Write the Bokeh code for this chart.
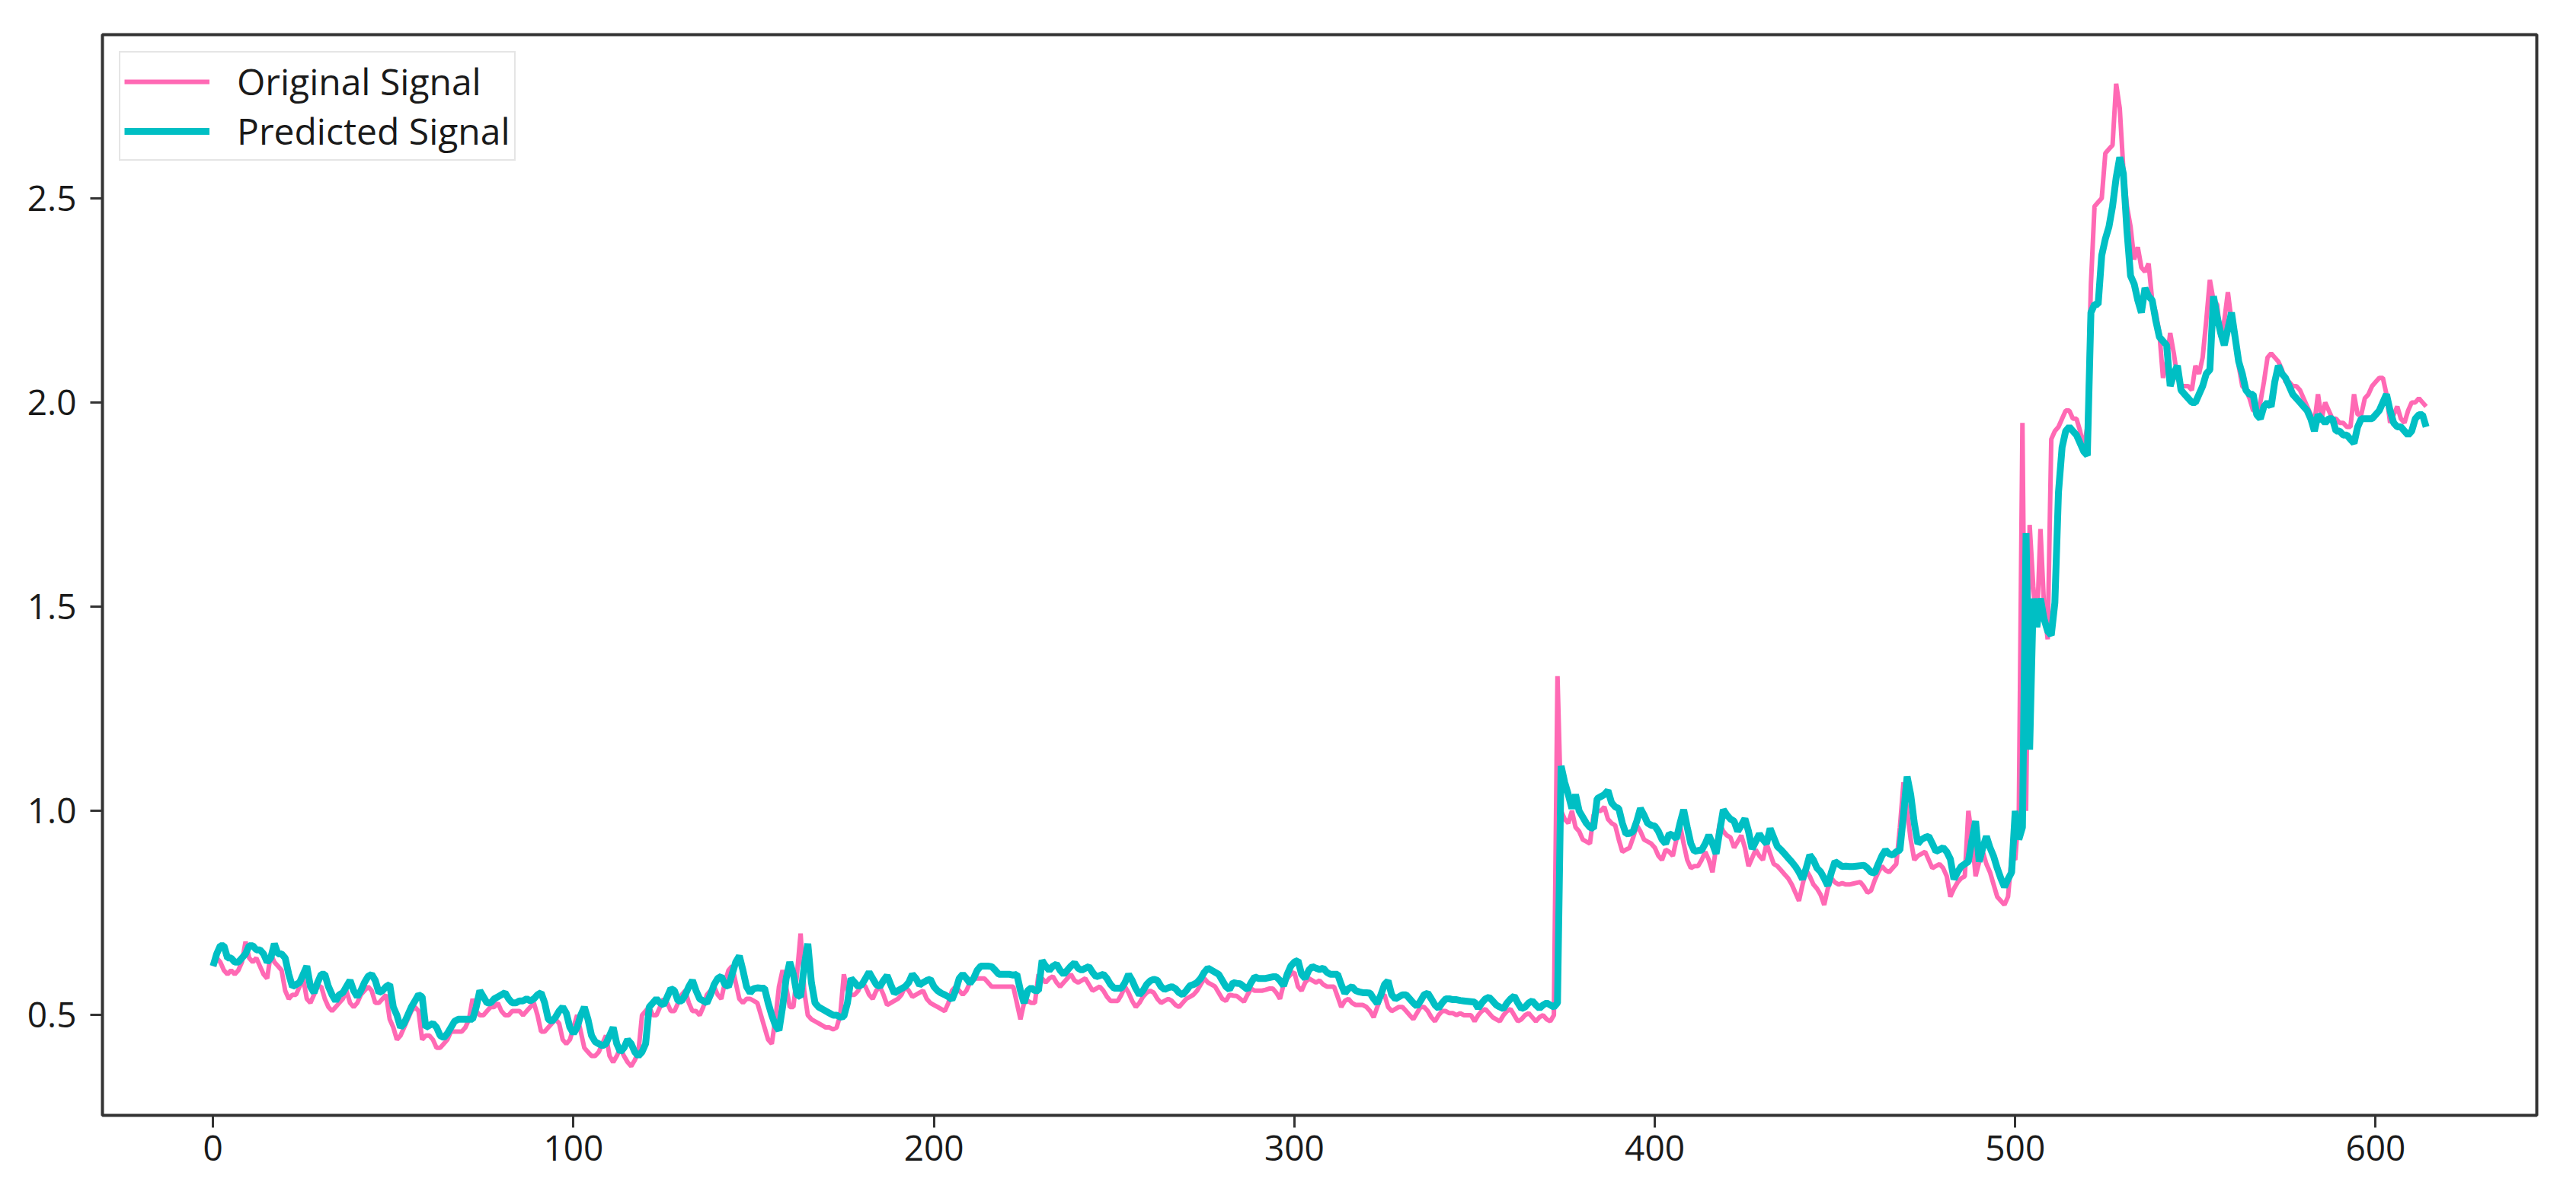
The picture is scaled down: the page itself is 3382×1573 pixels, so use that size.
from bokeh.plotting import figure
from bokeh.models import Range1d, FixedTicker, Legend, LegendItem
from bokeh.embed import file_html
from bokeh.resources import INLINE

# Predicted signal (teal), index 0..614
predicted = [
    .62,.65,.67,.67,.64,.64,.63,.63,.64,.65,
    .67,.67,.66,.66,.65,.63,.64,.675,.65,.65,
    .64,.60,.57,.575,.58,.60,.62,.57,.555,.58,
    .60,.60,.57,.55,.535,.55,.555,.57,.585,.56,
    .545,.56,.58,.595,.60,.585,.555,.56,.57,.575,
    .52,.50,.47,.48,.50,.52,.535,.55,.545,.47,
    .475,.48,.47,.45,.445,.455,.47,.485,.49,.49,
    .49,.49,.49,.52,.56,.545,.53,.53,.54,.545,
    .55,.555,.54,.53,.53,.535,.535,.54,.535,.54,
    .55,.555,.53,.49,.485,.495,.51,.52,.505,.47,
    .455,.47,.50,.52,.49,.45,.435,.43,.425,.43,
    .45,.47,.43,.41,.42,.44,.43,.41,.40,.41,
    .43,.52,.53,.54,.53,.525,.545,.565,.56,.535,
    .535,.55,.57,.585,.56,.54,.535,.53,.55,.575,
    .59,.595,.575,.57,.60,.63,.645,.61,.57,.555,
    .565,.567,.566,.566,.53,.50,.475,.463,.52,.59,
    .63,.60,.55,.545,.62,.675,.58,.53,.52,.515,
    .51,.505,.50,.50,.495,.497,.53,.59,.58,.57,
    .575,.59,.605,.59,.575,.57,.585,.597,.575,.554,
    .56,.565,.57,.58,.60,.59,.574,.58,.585,.588,
    .57,.56,.554,.55,.545,.538,.56,.59,.60,.59,
    .578,.59,.61,.62,.62,.62,.619,.61,.60,.60,
    .60,.60,.598,.60,.56,.53,.56,.567,.56,.56,
    .634,.62,.61,.62,.625,.61,.60,.61,.62,.628,
    .615,.61,.615,.619,.605,.594,.597,.60,.59,.575,
    .566,.566,.566,.58,.60,.585,.565,.55,.56,.575,
    .584,.588,.585,.57,.563,.567,.57,.565,.555,.55,
    .56,.572,.575,.58,.59,.605,.615,.61,.605,.60,
    .585,.57,.563,.58,.578,.577,.57,.563,.58,.594,
    .59,.59,.59,.592,.594,.594,.585,.572,.60,.62,
    .63,.634,.60,.59,.61,.619,.615,.612,.615,.605,
    .60,.60,.60,.575,.554,.565,.57,.56,.557,.555,
    .555,.554,.54,.529,.55,.575,.584,.55,.54,.545,
    .55,.55,.54,.53,.522,.535,.55,.554,.54,.525,
    .517,.53,.54,.54,.538,.538,.536,.535,.534,.533,
    .532,.517,.53,.54,.544,.535,.525,.52,.516,.53,
    .54,.547,.53,.516,.52,.53,.535,.525,.517,.525,
    .53,.525,.52,.53,1.11,1.07,1.04,1.006,1.04,1.00,
    .985,.97,.96,.957,1.03,1.035,1.04,1.05,1.02,1.01,
    1.006,.97,.944,.945,.95,.975,1.006,.99,.97,.965,
    .963,.95,.93,.92,.944,.94,.932,.97,1.003,.96,
    .92,.901,.903,.904,.92,.941,.92,.895,.95,1.003,
    .99,.98,.975,.95,.965,.981,.95,.907,.925,.944,
    .93,.92,.957,.935,.913,.905,.895,.885,.875,.864,
    .85,.833,.86,.892,.88,.86,.851,.835,.817,.85,
    .876,.87,.864,.865,.864,.864,.865,.866,.867,.86,
    .85,.848,.87,.89,.904,.895,.892,.90,.904,.99,
    1.084,1.04,.97,.92,.93,.935,.938,.92,.901,.905,
    .91,.90,.882,.833,.85,.864,.87,.876,.93,.975,
    .876,.91,.938,.91,.889,.86,.835,.814,.833,.85,
    1.00,.93,.96,1.68,1.15,1.52,1.45,1.52,1.47,1.44,
    1.43,1.51,1.78,1.89,1.93,1.94,1.93,1.92,1.90,1.88,
    1.87,2.22,2.24,2.24,2.36,2.40,2.43,2.48,2.55,2.60,
    2.56,2.42,2.31,2.29,2.25,2.22,2.28,2.26,2.25,2.20,
    2.16,2.15,2.14,2.04,2.07,2.09,2.03,2.02,2.01,2.00,
    2.00,2.02,2.04,2.07,2.08,2.26,2.21,2.17,2.14,2.18,
    2.22,2.16,2.10,2.07,2.03,2.02,2.02,1.97,1.96,1.99,
    2.00,1.99,2.05,2.09,2.07,2.06,2.04,2.02,2.01,2.00,
    1.99,1.98,1.96,1.93,1.97,1.96,1.95,1.96,1.96,1.93,
    1.93,1.92,1.92,1.91,1.90,1.94,1.96,1.96,1.96,1.96,
    1.97,1.98,2.00,2.02,1.98,1.95,1.94,1.94,1.93,1.92,
    1.93,1.96,1.97,1.97,1.94,
]

# Original signal (pink), index 0..614
original = [
    .62,.64,.63,.61,.60,.61,.60,.61,.63,.68,
    .64,.63,.64,.62,.60,.59,.65,.63,.62,.61,
    .56,.54,.55,.55,.57,.59,.54,.53,.55,.57,
    .57,.54,.52,.51,.52,.53,.54,.56,.53,.52,
    .53,.55,.56,.57,.56,.53,.53,.54,.55,.49,
    .47,.44,.45,.47,.49,.51,.52,.51,.44,.45,
    .45,.44,.42,.42,.43,.44,.46,.46,.46,.46,
    .47,.49,.54,.51,.50,.50,.51,.52,.52,.53,
    .51,.50,.50,.51,.51,.51,.50,.51,.52,.53,
    .50,.46,.46,.47,.48,.49,.48,.44,.43,.44,
    .47,.50,.46,.42,.41,.40,.40,.41,.43,.45,
    .40,.385,.40,.42,.40,.385,.375,.39,.41,.50,
    .51,.52,.50,.50,.52,.54,.53,.51,.51,.53,
    .55,.56,.53,.51,.51,.50,.52,.55,.56,.57,
    .55,.54,.58,.61,.62,.58,.54,.53,.54,.54,
    .535,.53,.50,.47,.44,.43,.49,.57,.61,.57,
    .52,.52,.60,.70,.56,.50,.49,.485,.48,.475,
    .47,.47,.465,.47,.50,.60,.56,.55,.55,.56,
    .58,.57,.55,.54,.56,.57,.55,.525,.53,.535,
    .54,.55,.57,.56,.545,.55,.555,.56,.54,.53,
    .525,.52,.515,.51,.53,.56,.57,.56,.55,.56,
    .58,.59,.59,.59,.59,.58,.57,.57,.57,.57,
    .57,.57,.57,.53,.49,.53,.535,.53,.53,.60,
    .59,.58,.59,.595,.58,.57,.58,.59,.60,.585,
    .58,.585,.59,.575,.56,.565,.57,.56,.545,.535,
    .535,.535,.55,.57,.555,.535,.52,.53,.545,.555,
    .56,.555,.54,.53,.535,.54,.535,.525,.52,.53,
    .54,.545,.55,.56,.575,.59,.58,.575,.57,.555,
    .54,.535,.55,.548,.547,.54,.533,.55,.565,.56,
    .56,.56,.562,.565,.565,.555,.54,.575,.59,.60,
    .605,.57,.56,.58,.59,.585,.58,.585,.575,.57,
    .57,.57,.545,.52,.535,.54,.53,.525,.525,.525,
    .52,.51,.495,.52,.545,.55,.52,.51,.515,.52,
    .52,.51,.50,.49,.505,.52,.52,.51,.495,.485,
    .50,.51,.51,.505,.505,.50,.505,.50,.50,.50,
    .485,.50,.51,.515,.505,.495,.49,.485,.50,.51,
    .515,.50,.485,.49,.50,.505,.495,.485,.495,.50,
    .49,.485,.50,1.33,1.00,.98,.97,1.00,.96,.95,
    .93,.925,.92,.99,1.00,1.00,1.01,.98,.97,.965,
    .93,.90,.905,.91,.935,.965,.95,.93,.925,.92,
    .91,.89,.88,.905,.90,.89,.93,.965,.92,.88,
    .86,.865,.865,.88,.90,.88,.85,.91,.97,.95,
    .94,.935,.91,.925,.94,.91,.865,.885,.905,.89,
    .88,.92,.895,.87,.865,.855,.845,.835,.82,.80,
    .78,.82,.855,.84,.82,.81,.795,.77,.81,.835,
    .825,.82,.823,.82,.82,.822,.824,.826,.815,.80,
    .805,.83,.85,.865,.855,.85,.86,.87,.96,1.07,
    1.00,.93,.88,.89,.895,.90,.88,.86,.865,.87,
    .86,.84,.79,.81,.825,.835,.84,1.00,.935,.84,
    .875,.90,.87,.85,.82,.79,.78,.77,.79,.89,
    .88,1.00,1.95,1.00,1.70,1.55,1.45,1.69,1.50,1.42,
    1.91,1.93,1.94,1.96,1.98,1.98,1.96,1.96,1.93,1.89,
    1.94,2.29,2.48,2.49,2.50,2.61,2.62,2.63,2.78,2.72,
    2.57,2.48,2.43,2.35,2.38,2.33,2.32,2.34,2.25,2.22,
    2.17,2.06,2.10,2.17,2.12,2.06,2.04,2.04,2.04,2.03,
    2.09,2.07,2.11,2.20,2.30,2.25,2.24,2.16,2.20,2.27,
    2.20,2.16,2.09,2.04,2.03,2.01,1.98,1.98,2.00,2.05,
    2.11,2.12,2.11,2.10,2.08,2.05,2.05,2.04,2.04,2.03,
    2.01,1.99,1.97,1.95,2.02,1.96,2.00,1.98,1.96,1.96,
    1.95,1.95,1.94,1.94,2.02,1.97,1.97,2.01,2.02,2.04,
    2.05,2.06,2.06,2.02,1.95,1.97,1.99,1.96,1.95,1.98,
    2.00,2.00,2.01,2.00,1.99,
]

x_ticks = [0, 100, 200, 300, 400, 500, 600]
y_ticks = [0.5, 1.0, 1.5, 2.0, 2.5]
y_tick_labels = ["0.5", "1.0", "1.5", "2.0", "2.5"]
series_names = ["Original Signal", "Predicted Signal"]

n = len(original)
xs = list(range(n))
margin_x = 0.05 * (n - 1)
ymin = min(min(original), min(predicted))
ymax = max(max(original), max(predicted))
margin_y = 0.05 * (ymax - ymin)

FONT = "Open Sans"
INK = "#333333"

p = figure(
    width=3366, height=1557,
    x_range=Range1d(-margin_x, n - 1 + margin_x),
    y_range=Range1d(ymin - margin_y, ymax + margin_y),
    output_backend="svg", toolbar_location=None,
    min_border_left=134, min_border_right=36,
    min_border_top=45, min_border_bottom=93,
)
p.background_fill_color = "white"
p.border_fill_color = "white"
p.outline_line_color = INK
p.outline_line_width = 4
p.xgrid.visible = False
p.ygrid.visible = False

r1 = p.line(xs, original, line_color="#ff69b4", line_width=6)
r2 = p.line(xs, predicted, line_color="#00bfc4", line_width=9)

p.xaxis.ticker = FixedTicker(ticks=x_ticks)
p.yaxis.ticker = FixedTicker(ticks=y_ticks)
p.yaxis.major_label_overrides = {t: l for t, l in zip(y_ticks, y_tick_labels)}
for ax in (p.xaxis[0], p.yaxis[0]):
    ax.axis_line_color = None
    ax.major_tick_line_color = INK
    ax.major_tick_line_width = 3
    ax.major_tick_out = 16
    ax.major_tick_in = 0
    ax.minor_tick_line_color = None
    ax.major_label_text_font = FONT
    ax.major_label_text_font_size = "46px"
    ax.major_label_text_color = "#1a1a1a"
p.xaxis.major_label_standoff = 10
p.yaxis.major_label_standoff = 18

legend = Legend(
    items=[LegendItem(label=series_names[0], renderers=[r1]),
           LegendItem(label=series_names[1], renderers=[r2])],
    location="top_left",
    margin=22,
    padding=5,
    spacing=0,
    glyph_width=112,
    glyph_height=48,
    label_height=48,
    label_standoff=36,
    label_text_font=FONT,
    label_text_font_size="48px",
    label_text_color="#1a1a1a",
    border_line_color="#cccccc",
    border_line_width=2,
    background_fill_color="white",
    background_fill_alpha=1.0,
)
p.add_layout(legend, "center")

open("out.html", "w").write(file_html(p, INLINE))
